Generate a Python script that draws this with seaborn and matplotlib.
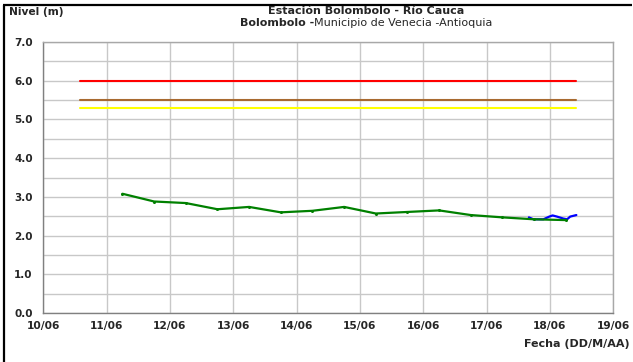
import matplotlib
matplotlib.use("Agg")
import matplotlib.pyplot as plt
import matplotlib.dates as mdates
from matplotlib.lines import Line2D
from matplotlib.ticker import MultipleLocator, FormatStrFormatter
import seaborn as sns
import pandas as pd

# ---------------- data ----------------
green_times = ["2011-06-11 06:00", "2011-06-11 18:00", "2011-06-12 06:00", "2011-06-12 18:00",
               "2011-06-13 06:00", "2011-06-13 18:00", "2011-06-14 06:00", "2011-06-14 18:00",
               "2011-06-15 06:00", "2011-06-15 18:00", "2011-06-16 06:00", "2011-06-16 18:00",
               "2011-06-17 06:00", "2011-06-17 18:00", "2011-06-18 06:00"]
green_levels = [3.08, 2.88, 2.84, 2.68, 2.74, 2.60, 2.64, 2.74, 2.57, 2.61, 2.65, 2.53, 2.47, 2.42, 2.40]

blue_times = ["2011-06-17 16:00", "2011-06-17 17:45", "2011-06-17 21:30", "2011-06-17 23:45",
              "2011-06-18 01:00", "2011-06-18 02:40", "2011-06-18 05:00", "2011-06-18 06:30",
              "2011-06-18 07:40", "2011-06-18 10:00"]
blue_levels = [2.47, 2.42, 2.42, 2.49, 2.52, 2.49, 2.44, 2.42, 2.49, 2.53]

threshold_span = ["2011-06-10 14:00", "2011-06-18 10:00"]
threshold_levels = [6.0, 5.5, 5.3]
threshold_colors = ["#ff0000", "#a86a30", "#ffff00"]

x_range = ["2011-06-10", "2011-06-19"]
title_1 = "Estación Bolombolo - Río Cauca"
title_2_bold = "Bolombolo -"
title_2_normal = "Municipio de Venecia -Antioquia"
y_label = "Nivel (m)"
x_label = "Fecha (DD/M/AA)"

# ---------------- plot ----------------
sns.set_style("white")
plt.rcParams['font.family'] = ['DejaVu Sans']

fig = plt.figure(figsize=(6.33, 3.62), dpi=100)
W, H = 633, 362
ax = fig.add_axes([43.3 / W, 1 - 313 / H, (613.3 - 43.3) / W, (313 - 42) / H])

for lvl, col in zip(threshold_levels, threshold_colors):
    df_t = pd.DataFrame({"fecha": pd.to_datetime(threshold_span), "nivel": [lvl, lvl]})
    sns.lineplot(data=df_t, x="fecha", y="nivel", ax=ax, color=col, lw=1.5, zorder=3)

df_g = pd.DataFrame({"fecha": pd.to_datetime(green_times), "nivel": green_levels})
df_b = pd.DataFrame({"fecha": pd.to_datetime(blue_times), "nivel": blue_levels})
sns.lineplot(data=df_b, x="fecha", y="nivel", ax=ax, color="#0000ff", lw=1.6, zorder=4)
sns.lineplot(data=df_g, x="fecha", y="nivel", ax=ax, color="#008000", lw=1.6, zorder=5,
             marker="o", markersize=2.2, markeredgewidth=0)

ax.set_xlim(pd.Timestamp(x_range[0]), pd.Timestamp(x_range[1]))
ax.set_ylim(0, 7)
ax.xaxis.set_major_locator(mdates.DayLocator())
ax.xaxis.set_major_formatter(mdates.DateFormatter("%d/%m"))
ax.yaxis.set_major_locator(MultipleLocator(1.0))
ax.yaxis.set_minor_locator(MultipleLocator(0.5))
ax.yaxis.set_major_formatter(FormatStrFormatter("%.1f"))
ax.set_xlabel("")
ax.set_ylabel("")

ax.yaxis.grid(True, which="both", color="#c8c8c8", lw=1.0)
ax.xaxis.grid(True, which="major", color="#c8c8c8", lw=1.0)
ax.set_axisbelow(True)

for side in ["left", "bottom"]:
    ax.spines[side].set_color("#808080")
    ax.spines[side].set_linewidth(1.0)
for side in ["top", "right"]:
    ax.spines[side].set_color("#a8a8a8")
    ax.spines[side].set_linewidth(1.0)

ax.tick_params(axis="y", which="major", direction="out", length=3.6, width=1,
               color="#808080", labelsize=7.5, pad=4)
ax.tick_params(axis="x", which="major", direction="out", length=3.6, width=1,
               color="#808080", labelsize=7.7, pad=2)
ax.tick_params(axis="y", which="minor", length=0)
for lab in ax.get_xticklabels() + ax.get_yticklabels():
    lab.set_fontweight("bold")

fig.text(9 / W, 1 - 12 / H, y_label, fontsize=7.7, fontweight="bold", ha="left", va="center")
fig.text(630 / W, 1 - 344 / H, x_label, fontsize=8.0, fontweight="bold", ha="right", va="center")

cx = 366 / W
fig.text(cx, 1 - 11 / H, title_1, fontsize=8.0, fontweight="bold", ha="center", va="center")

renderer = fig.canvas.get_renderer()
tb = fig.text(0, 1 - 23.5 / H, title_2_bold, fontsize=8.0, fontweight="bold", ha="left", va="center")
tn = fig.text(0, 1 - 23.5 / H, title_2_normal, fontsize=8.0, ha="left", va="center")
wb = tb.get_window_extent(renderer).width / fig.bbox.width
wn = tn.get_window_extent(renderer).width / fig.bbox.width
x0 = cx - (wb + wn) / 2
tb.set_x(x0)
tn.set_x(x0 + wb)

fig.add_artist(Line2D([3.5 / W, 3.5 / W], [0, 1 - 5 / H], transform=fig.transFigure,
                      color="black", lw=1.6, solid_capstyle="butt"))
fig.add_artist(Line2D([2.7 / W, 632 / W], [1 - 5 / H, 1 - 5 / H], transform=fig.transFigure,
                      color="black", lw=1.6, solid_capstyle="butt"))

fig.savefig("out.png", dpi=100)
